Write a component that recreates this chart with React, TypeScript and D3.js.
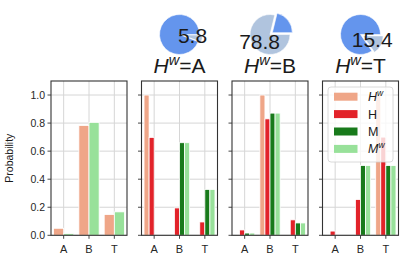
import * as d3 from "d3";

// categories and series
const categories = ["A", "B", "T"];
const seriesLabels = ["H", "H", "M", "M"];
const seriesSup = ["w", "", "", "w"];
const seriesColors = ["#efa688", "#e2232a", "#187a1b", "#98e19a"];

// overall panel (Hw and Mw only)
const overallHw = [0.05, 0.783, 0.148];
const overallMw = [0.012, 0.805, 0.167];

// conditional panels
const hwGivenA = [1.0, 0, 0];
const hGivenA = [0.698, 0.195, 0.095];
const mGivenA = [0, 0.66, 0.327];
const mwGivenA = [0, 0.66, 0.327];

const hwGivenB = [0, 1.0, 0];
const hGivenB = [0.038, 0.83, 0.11];
const mGivenB = [0.016, 0.871, 0.088];
const mwGivenB = [0.016, 0.871, 0.088];

const hwGivenT = [0, 0, 1.0];
const hGivenT = [0.03, 0.255, 0.7];
const mGivenT = [0, 0.497, 0.497];
const mwGivenT = [0, 0.497, 0.497];

const panelConds = ["A", "B", "T"];
const pieValues = [5.8, 78.8, 15.4];
const yTicks = [0, 0.2, 0.4, 0.6, 0.8, 1.0];

const W = 407;
const H = 265;
const font = "'Liberation Sans', Arial, sans-serif";
const panelW = 76;
const panelStep = 90.5;
const firstLeft = 51;
const top = 81;
const bottom = 235.3;

const pieColors = ["#b0c4de", "#6495ed"];

const y = d3.scaleLinear().domain([0, 1.1]).range([bottom, top]);

type Series = { values: number[]; color: number };

const Panel = ({ idx, series }: { idx: number; series: Series[] }) => {
  const left = firstLeft + idx * panelStep;
  const x = d3.scaleLinear().domain([-0.5, 2.5]).range([left, left + panelW]);
  const barW = 0.8 / series.length;
  return (
    <g>
      {yTicks.map((t) => (
        <line key={"gy" + t} x1={left} x2={left + panelW} y1={y(t)} y2={y(t)} stroke="#d6d6d6" strokeWidth={1} />
      ))}
      {categories.map((c, i) => (
        <line key={"gx" + c} x1={x(i)} x2={x(i)} y1={top} y2={bottom} stroke="#d6d6d6" strokeWidth={1} />
      ))}
      {series.map((s, si) =>
        s.values.map((v, ci) => {
          const x0 = x(ci - 0.4 + si * barW);
          const x1 = x(ci - 0.4 + (si + 1) * barW);
          return (
            <rect
              key={si + "-" + ci}
              x={x0}
              y={y(v)}
              width={x1 - x0}
              height={y(0) - y(v)}
              fill={seriesColors[s.color]}
              stroke="#fff"
              strokeWidth={0.8}
            />
          );
        })
      )}
      <rect x={left} y={top} width={panelW} height={bottom - top} fill="none" stroke="#333" strokeWidth={1.1} />
      {yTicks.map((t) => (
        <line key={"ty" + t} x1={left - 3.5} x2={left} y1={y(t)} y2={y(t)} stroke="#333" strokeWidth={0.9} />
      ))}
      {idx === 0 &&
        yTicks.map((t) => (
          <text key={"ly" + t} x={left - 6} y={y(t)} dy="0.35em" textAnchor="end" fontSize={10.5} fill="#262626">
            {d3.format(".1f")(t)}
          </text>
        ))}
      {categories.map((c, i) => (
        <g key={"tx" + c}>
          <line x1={x(i)} x2={x(i)} y1={bottom} y2={bottom + 3.5} stroke="#333" strokeWidth={0.9} />
          <text x={x(i)} y={253} textAnchor="middle" fontSize={11} fill="#262626">
            {c}
          </text>
        </g>
      ))}
    </g>
  );
};

const Pie = ({ idx, value, cond }: { idx: number; value: number; cond: string }) => {
  const cx = firstLeft + idx * panelStep + panelW / 2;
  const cy = 34.5;
  const r = 20;
  const data = [value, 100 - value];
  const arcs = d3
    .pie<number>()
    .sort(null)
    .startAngle(Math.PI / 2)
    .endAngle(Math.PI / 2 + 2 * Math.PI)(data);
  const arc = d3.arc<d3.PieArcDatum<number>>().innerRadius(0).outerRadius(r);
  const small = value < 50 ? 0 : 1;
  const labelArc = d3.arc<d3.PieArcDatum<number>>().innerRadius(r * 0.66).outerRadius(r * 0.66);
  const [lx, ly] = labelArc.centroid(arcs[0]);
  return (
    <g>
      {arcs.map((a, i) => {
        let dx = 0;
        let dy = 0;
        if (i === small) {
          const mid = (a.startAngle + a.endAngle) / 2;
          dx = Math.sin(mid) * 3;
          dy = -Math.cos(mid) * 3;
        }
        return (
          <path
            key={i}
            d={arc(a) || ""}
            transform={`translate(${cx + dx},${cy + dy})`}
            fill={pieColors[i]}
            stroke="#fff"
            strokeWidth={0.6}
          />
        );
      })}
      <text x={cx + lx} y={cy + ly - 1} dy="0.36em" textAnchor="middle" fontSize={21} fill="#1a1a1a">
        {value.toFixed(1)}
      </text>
      <text x={cx} y={72.5} textAnchor="middle" fontSize={21} fill="#1a1a1a">
        <tspan fontStyle="italic">H</tspan>
        <tspan fontStyle="italic" fontSize={14.5} dy={-8}>w</tspan>
        <tspan dy={8}>={cond}</tspan>
      </text>
    </g>
  );
};

const Legend = () => {
  const lx = 328;
  const ly = 87;
  return (
    <g>
      <rect x={lx} y={ly} width={65} height={75} rx={3} fill="#fff" fillOpacity={0.8} stroke="#d0d0d0" strokeWidth={0.8} />
      {seriesLabels.map((l, i) => {
        const rowY = 96.7 + i * 17.4;
        return (
          <g key={i}>
            <rect x={334} y={rowY - 4} width={23.5} height={8} fill={seriesColors[i]} />
            <text x={368} y={rowY} dy="0.36em" fontSize={12.5} fill="#1a1a1a">
              {seriesSup[i] ? (
                <>
                  <tspan fontStyle="italic">{l}</tspan>
                  <tspan fontStyle="italic" fontSize={8.5} dy={-5}>
                    {seriesSup[i]}
                  </tspan>
                </>
              ) : (
                l
              )}
            </text>
          </g>
        );
      })}
    </g>
  );
};

export default function App() {
  const condPanels: Series[][] = [
    [
      { values: hwGivenA, color: 0 },
      { values: hGivenA, color: 1 },
      { values: mGivenA, color: 2 },
      { values: mwGivenA, color: 3 },
    ],
    [
      { values: hwGivenB, color: 0 },
      { values: hGivenB, color: 1 },
      { values: mGivenB, color: 2 },
      { values: mwGivenB, color: 3 },
    ],
    [
      { values: hwGivenT, color: 0 },
      { values: hGivenT, color: 1 },
      { values: mGivenT, color: 2 },
      { values: mwGivenT, color: 3 },
    ],
  ];
  return (
    <svg
      width={W}
      height={H}
      style={{ position: "absolute", left: 0, top: 0, background: "#fff" }}
      fontFamily={font}
    >
      <Panel
        idx={0}
        series={[
          { values: overallHw, color: 0 },
          { values: overallMw, color: 3 },
        ]}
      />
      {condPanels.map((s, i) => (
        <Panel key={i} idx={i + 1} series={s} />
      ))}
      {pieValues.map((v, i) => (
        <Pie key={i} idx={i + 1} value={v} cond={panelConds[i]} />
      ))}
      <Legend />
      <text
        transform={`translate(13,${(top + bottom) / 2}) rotate(-90)`}
        textAnchor="middle"
        fontSize={10.5}
        fill="#1a1a1a"
      >
        Probability
      </text>
    </svg>
  );
}
